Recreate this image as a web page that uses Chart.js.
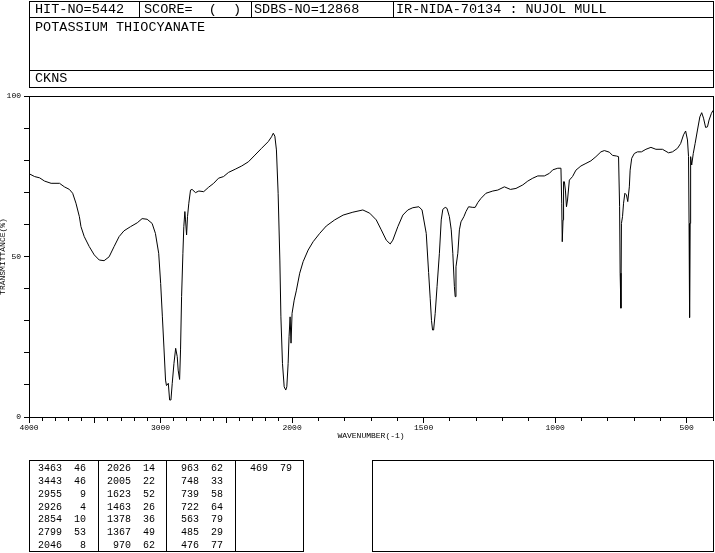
<!DOCTYPE html>
<html>
<head>
<meta charset="utf-8">
<script src="https://cdn.jsdelivr.net/npm/chart.js@4.4.1/dist/chart.umd.min.js"></script>
<style>
  html, body { margin: 0; padding: 0; background: #fff; }
  #page { position: relative; width: 715px; height: 553px; overflow: hidden; color: #000;
          font-family: 'Liberation Mono', 'DejaVu Sans Mono', monospace; }
  #spectrum { position: absolute; left: 0; top: 0; }
  .box { position: absolute; border: 1px solid #000; box-sizing: border-box; }
  .hline { position: absolute; height: 1px; background: #000; }
  .vline { position: absolute; width: 1px; background: #000; }
  .head { position: absolute; font-size: 13.5px; line-height: 1; white-space: pre; }
  .peak { position: absolute; font-size: 10px; line-height: 1; white-space: pre; text-align: right; }
</style>
</head>
<body>
<div id="page">
  <canvas id="spectrum" width="715" height="553"></canvas>

  <!-- header block -->
  <div class="box" style="left:29px;top:1px;width:685px;height:87px"></div>
  <div class="hline" style="left:29px;top:17px;width:685px"></div>
  <div class="hline" style="left:29px;top:70px;width:685px"></div>
  <div class="vline" style="left:139px;top:1px;height:16px"></div>
  <div class="vline" style="left:251px;top:1px;height:16px"></div>
  <div class="vline" style="left:393px;top:1px;height:16px"></div>
  <div class="head" style="left:35px;top:3px">HIT-NO=5442</div>
  <div class="head" style="left:144px;top:3px">SCORE=  (  )</div>
  <div class="head" style="left:254px;top:3px">SDBS-NO=12868</div>
  <div class="head" style="left:396px;top:3px">IR-NIDA-70134 : NUJOL MULL</div>
  <div class="head" style="left:35px;top:20.5px">POTASSIUM THIOCYANATE</div>
  <div class="head" style="left:35px;top:72px">CKNS</div>

  <!-- peak table -->
  <div class="box" style="left:29px;top:460px;width:275px;height:92px"></div>
  <div class="vline" style="left:98px;top:460px;height:92px"></div>
  <div class="vline" style="left:166px;top:460px;height:92px"></div>
  <div class="vline" style="left:235px;top:460px;height:92px"></div>
  <div class="box" style="left:372px;top:460px;width:342px;height:92px"></div>
  <div id="peaks"></div>
</div>
<script>
// spectrum (cm-1 / %T)
const wavenumbers = [
  4000, 3957, 3919, 3882, 3832, 3768, 3731, 3693, 3668, 3643, 3617, 3605, 3580, 3542, 3504, 3466,
  3429, 3391, 3353, 3315, 3278, 3228, 3177, 3140, 3102, 3064, 3039, 3014, 2999, 2986, 2974, 2962,
  2955, 2949, 2941, 2931, 2921, 2911, 2898, 2885, 2873, 2866, 2855, 2848, 2840, 2830, 2823, 2815,
  2810, 2802, 2795, 2785, 2772, 2760, 2734, 2709, 2672, 2634, 2596, 2559, 2521, 2483, 2432, 2383,
  2332, 2282, 2232, 2181, 2156, 2143, 2131, 2119, 2106, 2093, 2085, 2073, 2060, 2048, 2040, 2030,
  2023, 2015, 2008, 2000, 1992, 1984, 1971, 1958, 1939, 1920, 1895, 1870, 1838, 1806, 1769, 1731,
  1705, 1680, 1661, 1642, 1627, 1617, 1598, 1579, 1560, 1541, 1518, 1506, 1490, 1481, 1475, 1470,
  1466, 1462, 1456, 1449, 1440, 1433, 1427, 1418, 1411, 1402, 1395, 1389, 1383, 1380, 1377, 1370,
  1364, 1358, 1347, 1339, 1329, 1313, 1304, 1294, 1282, 1263, 1237, 1218, 1193, 1170, 1149, 1123,
  1104, 1085, 1066, 1041, 1022, 1009, 990, 978, 975, 973, 970, 968, 965, 961, 957, 953,
  946, 934, 921, 902, 883, 864, 845, 826, 813, 794, 782, 767, 759, 755, 753, 750,
  748, 744, 740, 735, 729, 724, 718, 715, 709, 699, 687, 672, 655, 636, 617, 592,
  569, 554, 535, 523, 512, 504, 497, 493, 491, 490, 488, 487, 485, 481, 475, 468,
  459, 450, 443, 436, 428, 421, 415, 406, 400
];
const transmittance = [
  75.8, 74.9, 74.5, 73.5, 72.8, 72.8, 71.7, 70.9, 69.7, 66.6, 62.4, 59.3, 56.2, 53.1, 50.5, 48.9,
  48.7, 49.9, 53.1, 56.2, 58.0, 59.3, 60.5, 61.8, 61.6, 60.3, 57.2, 51.0, 41.6, 31.2, 21.5, 11.5,
  9.8, 10.0, 10.5, 5.3, 5.3, 10.5, 16.7, 21.4, 18.8, 14.6, 11.7, 20.9, 37.5, 51.0, 59.3, 64.0,
  61.4, 56.7, 62.4, 66.6, 70.7, 70.9, 69.9, 70.4, 70.2, 71.6, 72.8, 74.4, 74.9, 76.2, 77.2, 78.2,
  79.5, 81.6, 83.7, 85.8, 87.3, 88.4, 87.5, 83.2, 69.7, 48.9, 31.2, 16.7, 9.4, 8.4, 9.4, 16.7,
  25.0, 31.2, 23.0, 32.3, 36.4, 39.3, 44.8, 48.4, 52.0, 54.6, 57.2, 59.5, 61.4, 62.9, 63.8, 64.5,
  63.5, 61.4, 58.3, 55.1, 53.9, 55.1, 59.3, 62.9, 64.5, 65.2, 65.5, 64.5, 57.2, 45.0, 37.0, 30.0,
  27.1, 27.1, 32.3, 40.6, 51.0, 61.4, 64.7, 65.3, 65.0, 62.4, 58.3, 51.0, 40.6, 37.5, 46.8, 51.0,
  58.3, 60.8, 62.4, 64.0, 65.5, 65.3, 65.3, 66.8, 68.1, 69.7, 70.4, 70.7, 71.7, 70.9, 71.2, 72.3,
  73.5, 74.4, 75.1, 75.1, 75.9, 77.0, 77.5, 77.5, 66.6, 54.6, 61.4, 73.3, 73.3, 70.7, 65.5, 67.6,
  73.8, 74.9, 76.9, 78.2, 79.0, 79.8, 81.1, 82.6, 83.0, 82.5, 81.5, 81.3, 81.1, 65.5, 44.8, 33.9,
  60.3, 62.4, 66.6, 69.7, 69.2, 67.1, 71.7, 76.9, 80.6, 82.1, 82.6, 82.6, 83.4, 84.0, 83.4, 83.4,
  82.3, 82.6, 83.7, 85.2, 87.9, 89.1, 86.3, 81.1, 60.3, 41.6, 31.0, 60.3, 81.1, 78.5, 82.1, 85.2,
  89.4, 93.5, 94.8, 93.1, 90.2, 90.4, 92.5, 94.6, 95.5
];

// axis
const xLabelValues = [4000, 3000, 2000, 1500, 1000, 500];
const yLabelValues = [0, 50, 100];
const xMin = 400, xMax = 4000, xBreak = 2000;
const minorStep = 100, majorStep = 500;

// peak list printed under the plot
const peakWavenumbers = [3463, 3443, 2955, 2926, 2854, 2799, 2046, 2026, 2005, 1623, 1463, 1378, 1367, 970,
                         963, 748, 739, 722, 563, 485, 476, 469];
const peakIntensities = [46, 46, 9, 4, 10, 53, 8, 14, 22, 52, 26, 36, 49, 62,
                         62, 33, 58, 64, 79, 29, 77, 79];

// IR charts use half the scale above 2000 cm-1
class WavenumberScale extends Chart.LinearScale {
  static id = 'wavenumber';
  units(v) {
    return v > xBreak ? (v - xBreak) / 2 + (xBreak - this.min) : v - this.min;
  }
  buildTicks() {
    const ticks = [];
    for (let v = this.max; v >= this.min; v -= minorStep) ticks.push({ value: v });
    return ticks;
  }
  getPixelForValue(v) {
    return this.left + this.width * (1 - this.units(v) / this.units(this.max));
  }
  getValueForPixel(p) {
    const u = (1 - (p - this.left) / this.width) * this.units(this.max);
    const lowSpan = xBreak - this.min;
    return u > lowSpan ? xBreak + (u - lowSpan) * 2 : this.min + u;
  }
}
Chart.register(WavenumberScale);

const tickFont = { family: "'Liberation Mono', monospace", size: 8 };

const frame = {
  id: 'frame',
  afterDatasetsDraw(chart) {
    const { ctx, chartArea: a } = chart;
    ctx.save();
    ctx.strokeStyle = '#000';
    ctx.lineWidth = 1;
    ctx.strokeRect(Math.round(a.left) + 0.5, Math.round(a.top) + 0.5,
                   Math.round(a.right - a.left), Math.round(a.bottom - a.top));
    ctx.restore();
  }
};

new Chart(document.getElementById('spectrum'), {
  type: 'line',
  data: {
    datasets: [{
      data: wavenumbers.map((w, i) => ({ x: w, y: transmittance[i] })),
      borderColor: '#000',
      borderWidth: 1,
      pointRadius: 0,
      tension: 0,
      fill: false
    }]
  },
  options: {
    responsive: false,
    animation: false,
    devicePixelRatio: 1,
    events: [],
    layout: { padding: { top: 96, right: 2, bottom: 96, left: 0 } },
    plugins: { legend: { display: false }, tooltip: { enabled: false } },
    scales: {
      x: {
        type: 'wavenumber',
        min: xMin,
        max: xMax,
        afterFit: s => { s.height = 40; },
        border: { color: '#000', width: 1 },
        grid: {
          drawOnChartArea: false,
          tickLength: 6,
          tickColor: '#000',
          tickBorderDash: c => (c.tick && c.tick.value % majorStep === 0) ? [] : [3, 20]
        },
        ticks: {
          autoSkip: false,
          maxRotation: 0,
          padding: 0,
          color: '#000',
          font: tickFont,
          callback: v => xLabelValues.includes(v) ? String(v) : ''
        },
        title: { display: true, text: 'WAVENUMBER(-1)', color: '#000', font: tickFont, padding: { top: 0, bottom: 16 } }
      },
      y: {
        min: 0,
        max: 100,
        afterFit: s => { s.width = 29; },
        border: { color: '#000', width: 1 },
        grid: { drawOnChartArea: false, tickLength: 5, tickColor: '#000' },
        ticks: {
          stepSize: 10,
          autoSkip: false,
          padding: 3,
          color: '#000',
          font: tickFont,
          callback: v => yLabelValues.includes(v) ? String(v) : ''
        },
        title: { display: true, text: 'TRANSMITTANCE(%)', color: '#000', font: tickFont, padding: { top: -2, bottom: 0 } }
      }
    }
  },
  plugins: [frame]
});

// peak table: 4 columns of 7 rows
const colX = [29, 98, 166, 235];
const rowsPerCol = 7;
const holder = document.getElementById('peaks');
peakWavenumbers.forEach((w, i) => {
  const c = Math.floor(i / rowsPerCol), r = i % rowsPerCol;
  const top = 469 + r * 12.8 - 4.8;
  const a = document.createElement('div');
  a.className = 'peak';
  a.style.cssText = `left:${colX[c] + 3}px;top:${top}px;width:30px`;
  a.textContent = String(w);
  const b = document.createElement('div');
  b.className = 'peak';
  b.style.cssText = `left:${colX[c] + 37}px;top:${top}px;width:20px`;
  b.textContent = String(peakIntensities[i]);
  holder.appendChild(a);
  holder.appendChild(b);
});
</script>
</body>
</html>
